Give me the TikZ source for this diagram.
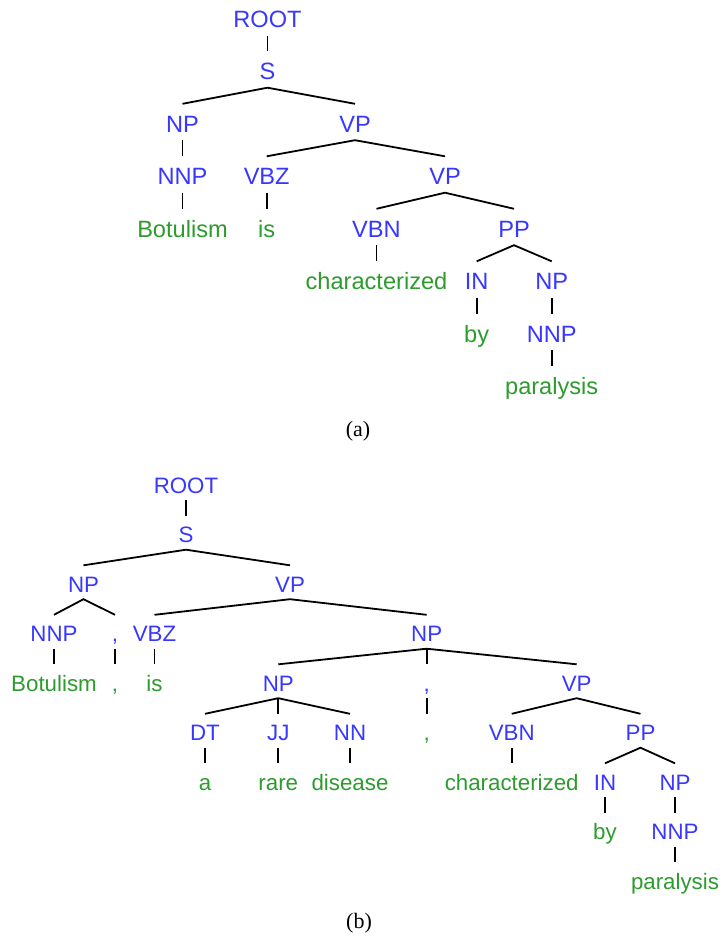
\documentclass[tikz,border=0pt]{standalone}
\usepackage{fontspec}
\setmainfont{Liberation Serif}
\newfontfamily\treefont{Liberation Sans}
\definecolor{tagblue}{RGB}{55,55,255}
\definecolor{leafgreen}{RGB}{45,155,45}
\tikzset{
  x=1pt, y=-1pt,
  treeA/.style={font=\treefont\fontsize{23.6}{28}\selectfont, anchor=base, inner sep=0pt, text height=28pt, text depth=8pt},
  treeB/.style={font=\treefont\fontsize{22.3}{26}\selectfont, anchor=base, inner sep=0pt, text height=26.5pt, text depth=7pt},
  tagA/.style={treeA, text=tagblue},
  leafA/.style={treeA, text=leafgreen},
  tagB/.style={treeB, text=tagblue},
  leafB/.style={treeB, text=leafgreen},
  edge/.style={draw=black, line width=1.8pt},
  caption/.style={font=\fontsize{22}{26}\selectfont, anchor=base, inner sep=0pt}
}
\begin{document}
\begin{tikzpicture}
\useasboundingbox[fill=white] (0,0) rectangle (723,937);
% ---------------- tree (a) ----------------
\node[tagA] (aroot) at (267.5,27.3) {ROOT};
\node[tagA] (as) at (267.5,79.5) {S};
\node[tagA] (anp) at (182.5,132) {NP};
\node[tagA] (avp) at (355,132) {VP};
\node[tagA] (annp) at (182.5,184.5) {NNP};
\node[tagA] (avbz) at (266.7,184.5) {VBZ};
\node[tagA] (avp2) at (445,184.5) {VP};
\node[leafA] (abot) at (182.5,237) {Botulism};
\node[leafA] (ais) at (266.7,237) {is};
\node[tagA] (avbn) at (376.5,237) {VBN};
\node[tagA] (app) at (514,237) {PP};
\node[leafA] (achar) at (376.5,289.5) {characterized};
\node[tagA] (ain) at (476.7,289.5) {IN};
\node[tagA] (anp2) at (551.7,289.5) {NP};
\node[leafA] (aby) at (476.7,342) {by};
\node[tagA] (annp2) at (551.7,342) {NNP};
\node[leafA] (apar) at (551.7,394.5) {paralysis};
\node[caption] (capa) at (358,436) {(a)};
\draw[edge] (aroot.south) -- (as.north);
\draw[edge] (anp.north) -- (as.south) -- (avp.north);
\draw[edge] (anp.south) -- (annp.north);
\draw[edge] (annp.south) -- (abot.north);
\draw[edge] (avbz.north) -- (avp.south) -- (avp2.north);
\draw[edge] (avbz.south) -- (ais.north);
\draw[edge] (avbn.north) -- (avp2.south) -- (app.north);
\draw[edge] (avbn.south) -- (achar.north);
\draw[edge] (ain.north) -- (app.south) -- (anp2.north);
\draw[edge] (ain.south) -- (aby.north);
\draw[edge] (anp2.south) -- (annp2.north);
\draw[edge] (annp2.south) -- (apar.north);
% ---------------- tree (b) ----------------
\node[tagB] (broot) at (186,493) {ROOT};
\node[tagB] (bs) at (186,542.5) {S};
\node[tagB] (bnp) at (83.5,592) {NP};
\node[tagB] (bvp) at (290,592) {VP};
\node[tagB] (bnnp) at (54,641.5) {NNP};
\node[tagB] (bctag) at (115,641.5) {,};
\node[tagB] (bvbz) at (154.5,641.5) {VBZ};
\node[tagB] (bnp2) at (426.7,641.5) {NP};
\node[leafB] (bbot) at (54,691) {Botulism};
\node[leafB] (bcleaf) at (115,691) {,};
\node[leafB] (bis) at (154.5,691) {is};
\node[tagB] (bnp3) at (278.3,691) {NP};
\node[tagB] (bctag2) at (426.7,691) {,};
\node[tagB] (bvp2) at (576.7,691) {VP};
\node[tagB] (bdt) at (205,740.5) {DT};
\node[tagB] (bjj) at (278.3,740.5) {JJ};
\node[tagB] (bnn) at (350,740.5) {NN};
\node[leafB] (bcleaf2) at (426.7,740.5) {,};
\node[tagB] (bvbn) at (511.7,740.5) {VBN};
\node[tagB] (bpp) at (640.5,740.5) {PP};
\node[leafB] (ba) at (205,790) {a};
\node[leafB] (brare) at (278.3,790) {rare};
\node[leafB] (bdis) at (350,790) {disease};
\node[leafB] (bchar) at (511.7,790) {characterized};
\node[tagB] (bin) at (605,790) {IN};
\node[tagB] (bnp4) at (675,790) {NP};
\node[leafB] (bby) at (605,839.5) {by};
\node[tagB] (bnnp2) at (675,839.5) {NNP};
\node[leafB] (bpar) at (675,889) {paralysis};
\node[caption] (capb) at (359,928) {(b)};
\draw[edge] (broot.south) -- (bs.north);
\draw[edge] (bnp.north) -- (bs.south) -- (bvp.north);
\draw[edge] (bnnp.north) -- (bnp.south) -- (bctag.north);
\draw[edge] (bnnp.south) -- (bbot.north);
\draw[edge] (bctag.south) -- (bcleaf.north);
\draw[edge] (bvbz.north) -- (bvp.south) -- (bnp2.north);
\draw[edge] (bvbz.south) -- (bis.north);
\draw[edge] (bnp3.north) -- (bnp2.south) -- (bvp2.north);
\draw[edge] (bnp2.south) -- (bctag2.north);
\draw[edge] (bctag2.south) -- (bcleaf2.north);
\draw[edge] (bdt.north) -- (bnp3.south) -- (bnn.north);
\draw[edge] (bnp3.south) -- (bjj.north);
\draw[edge] (bdt.south) -- (ba.north);
\draw[edge] (bjj.south) -- (brare.north);
\draw[edge] (bnn.south) -- (bdis.north);
\draw[edge] (bvbn.north) -- (bvp2.south) -- (bpp.north);
\draw[edge] (bvbn.south) -- (bchar.north);
\draw[edge] (bin.north) -- (bpp.south) -- (bnp4.north);
\draw[edge] (bin.south) -- (bby.north);
\draw[edge] (bnp4.south) -- (bnnp2.north);
\draw[edge] (bnnp2.south) -- (bpar.north);
\end{tikzpicture}
\end{document}
